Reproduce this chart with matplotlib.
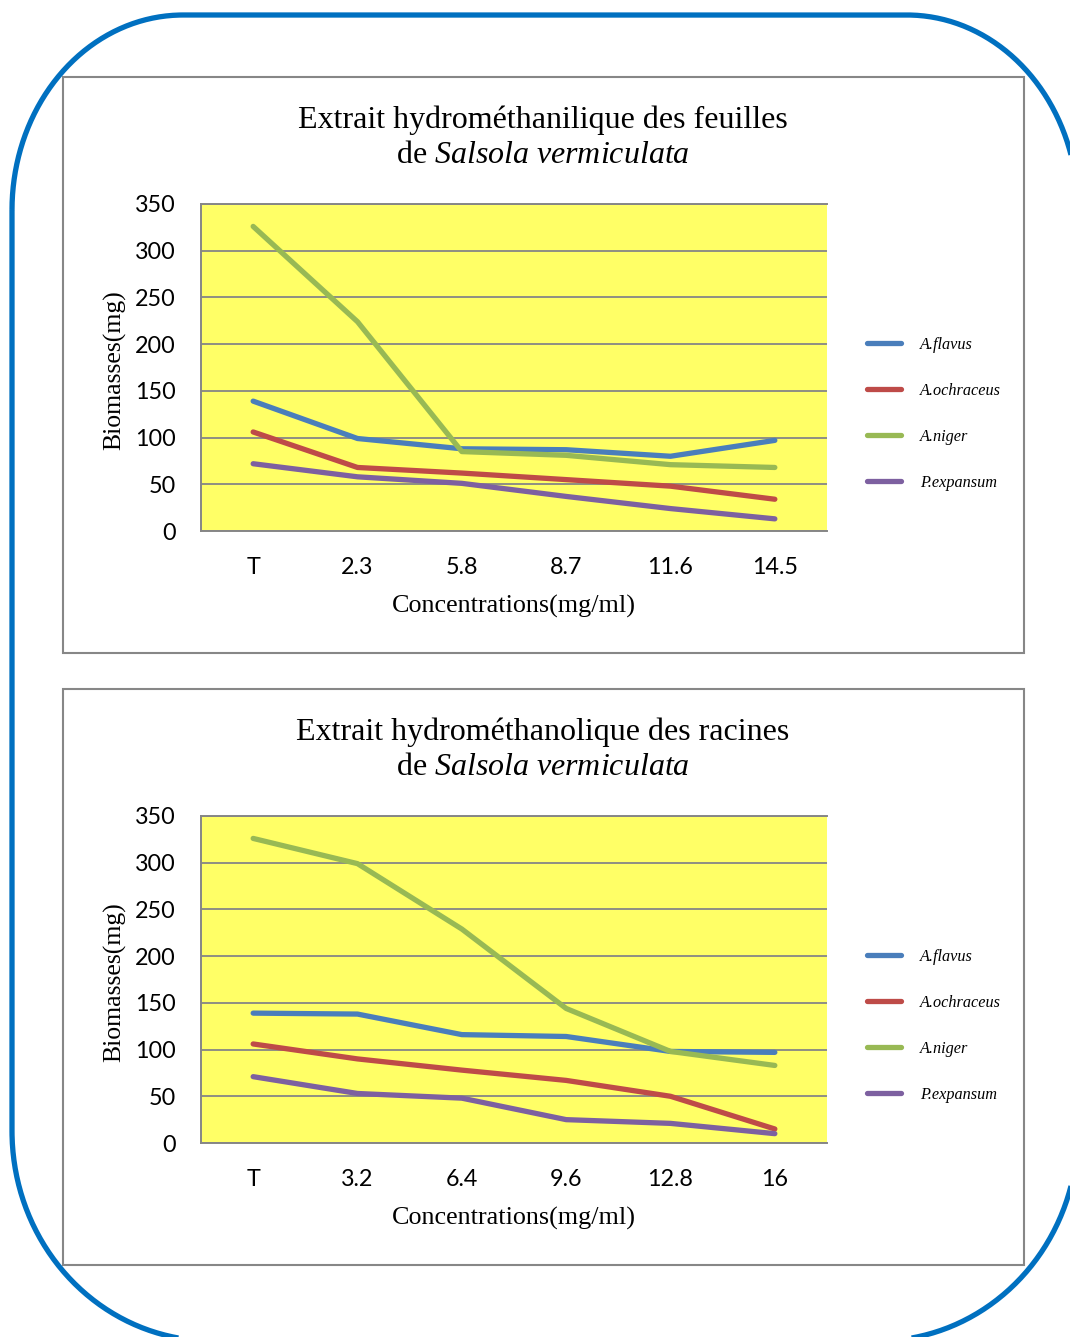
import numpy as np
import matplotlib
matplotlib.use("Agg")
import matplotlib.pyplot as plt
from matplotlib.patches import Rectangle, PathPatch
from matplotlib.path import Path
from matplotlib.transforms import Affine2D

# ---------------------------------------------------------------- data
series_names = ["A.flavus", "A.ochraceus", "A.niger", "P.expansum"]
series_colors = ["#4A7EBB", "#BE4B48", "#98B954", "#7D60A0"]

# Leaf extract
conc_leaves = ["T", "2.3", "5.8", "8.7", "11.6", "14.5"]
flavus_leaves = [139, 99, 88, 87, 80, 97]
ochraceus_leaves = [106, 68, 62, 55, 48, 34]
niger_leaves = [326, 224, 85, 81, 71, 68]
expansum_leaves = [72, 58, 51, 37, 24, 13]

# Root extract
conc_roots = ["T", "3.2", "6.4", "9.6", "12.8", "16"]
flavus_roots = [139, 138, 116, 114, 98, 97]
ochraceus_roots = [106, 90, 78, 67, 50, 15]
niger_roots = [326, 299, 229, 144, 98, 83]
expansum_roots = [71, 53, 48, 25, 21, 10]

y_ticks = [0, 50, 100, 150, 200, 250, 300, 350]

title_leaves = "Extrait hydrométhanilique des feuilles"
title_roots = "Extrait hydrométhanolique des racines"
title_species = r"de $\mathit{Salsola\ vermiculata}$"
x_label = "Concentrations(mg/ml)"
y_label = "Biomasses(mg)"

# ---------------------------------------------------------------- style
plt.rcParams["mathtext.fontset"] = "custom"
plt.rcParams["mathtext.rm"] = "Liberation Serif"
plt.rcParams["mathtext.it"] = "Liberation Serif:italic"

SERIF = "Liberation Serif"
SANS = "Lato"
GRID = "#868686"
BOX = "#878787"
PLOT_BG = "#FFFF66"

W, H = 1070, 1337
fig = plt.figure(figsize=(W / 100, H / 100), dpi=100)
fig.patch.set_facecolor("white")
# pixel coordinate system (origin top-left, y downwards)
px = Affine2D().scale(1 / W, -1 / H).translate(0, 1) + fig.transFigure


def rounded_outline(x0, y0, x1, y1, rx_top, ry_top, rx_bot, ry_bot, n=80):
    t = np.linspace(0, np.pi / 2, n)
    pts = []
    cx, cy = x0 + rx_top, y0 + ry_top
    pts += list(zip(cx - rx_top * np.cos(t), cy - ry_top * np.sin(t)))
    cx, cy = x1 - rx_top, y0 + ry_top
    pts += list(zip(cx + rx_top * np.sin(t), cy - ry_top * np.cos(t)))
    cx, cy = x1 - rx_bot, y1 - ry_bot
    pts += list(zip(cx + rx_bot * np.cos(t), cy + ry_bot * np.sin(t)))
    cx, cy = x0 + rx_bot, y1 - ry_bot
    pts += list(zip(cx - rx_bot * np.sin(t), cy + ry_bot * np.cos(t)))
    pts.append(pts[0])
    return Path(np.array(pts))


frame = PathPatch(rounded_outline(12, 15, 1078, 1341, 171, 195, 200, 210),
                  transform=px, facecolor="none", edgecolor="#0070C0",
                  lw=3.8, zorder=-2)
fig.patches.append(frame)


def draw_chart(top, conc, values, title_line1):
    # chart border
    fig.patches.append(Rectangle((63, top), 961, 576, transform=px,
                                 facecolor="none", edgecolor=BOX, lw=1.5,
                                 zorder=-1))
    plot_top = top + 127
    plot_bot = top + 454
    ax = fig.add_axes([201 / W, 1 - plot_bot / H, 626 / W,
                       (plot_bot - plot_top) / H])
    ax.set_facecolor(PLOT_BG)
    x = np.arange(len(conc))
    lines = []
    for name, color, vals in zip(series_names, series_colors, values):
        ln, = ax.plot(x, vals, color=color, lw=3.8, label=name,
                      solid_capstyle="round", solid_joinstyle="round")
        lines.append(ln)
    ax.set_xlim(-0.5, len(conc) - 0.5)
    ax.set_ylim(0, 350)
    ax.set_yticks(y_ticks)
    ax.set_xticks(x)
    ax.set_xticklabels(conc)
    ax.yaxis.grid(True, color=GRID, lw=1.3)
    ax.set_axisbelow(True)
    for side in ("left", "bottom", "top"):
        ax.spines[side].set_color(GRID)
        ax.spines[side].set_linewidth(1.4)
    ax.spines["right"].set_visible(False)
    ax.tick_params(axis="both", length=0, labelsize=16.8)
    ax.tick_params(axis="y", pad=18)
    ax.tick_params(axis="x", pad=19)
    for lab in ax.get_xticklabels() + ax.get_yticklabels():
        lab.set_fontfamily(SANS)

    # titles and axis labels
    fig.text(543 / W, 1 - (top + 51) / H, title_line1, ha="center",
             va="baseline", family=SERIF, size=23)
    fig.text(543 / W, 1 - (top + 86) / H, title_species, ha="center",
             va="baseline", family=SERIF, size=23)
    fig.text(115 / W, 1 - (top + 293) / H, y_label, rotation=90,
             ha="center", va="center", family=SERIF, size=18.5)
    fig.text(514 / W, 1 - (top + 529) / H, x_label, ha="center",
             va="center", family=SERIF, size=18.8)

    # legend
    ax.legend(handles=lines, loc="center left",
              bbox_to_anchor=(859 / W, 1 - (top + 337) / H),
              bbox_transform=fig.transFigure, frameon=False, borderpad=0,
              handlelength=2.1, handletextpad=1.15, labelspacing=1.84,
              prop={"family": SERIF, "style": "italic", "size": 11.7})
    return ax


draw_chart(77, conc_leaves,
           [flavus_leaves, ochraceus_leaves, niger_leaves, expansum_leaves],
           title_leaves)
draw_chart(689, conc_roots,
           [flavus_roots, ochraceus_roots, niger_roots, expansum_roots],
           title_roots)

fig.savefig("out.png", dpi=100)
